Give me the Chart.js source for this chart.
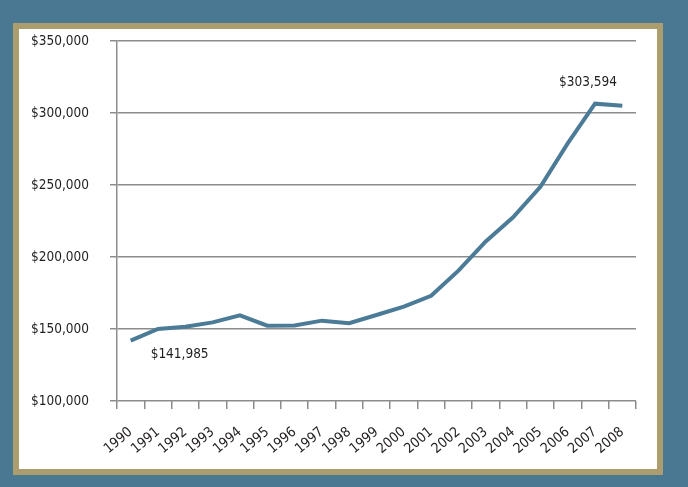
<!DOCTYPE html>
<html>
<head>
<meta charset="utf-8">
<script src="https://cdn.jsdelivr.net/npm/chart.js@4/dist/chart.umd.min.js"></script>
<style>
  html, body { margin: 0; padding: 0; }
  body { width: 688px; height: 487px; background: #4a7893; position: relative; overflow: hidden; }
  #frame {
    position: absolute; left: 13px; top: 23px; width: 650px; height: 452px;
    box-sizing: border-box; border: 6px solid #ab9d6e; background: #fff;
  }
  #chart { display: block; }
</style>
</head>
<body>
<div id="frame"><canvas id="chart" width="638" height="440"></canvas></div>
<script>
// years on the x axis
var years = ['1990','1991','1992','1993','1994','1995','1996','1997','1998','1999',
             '2000','2001','2002','2003','2004','2005','2006','2007','2008'];
// median value
var values = [141985, 150000, 151600, 154600, 159500, 152300, 152500, 155800, 154000, 159700,
              165500, 173100, 190500, 210800, 227600, 248800, 278900, 306500, 305000];
// the two callouts: index into values, text shown
var callouts = [
    {index: 0, text: '$141,985', dx: 20, dy: 14, align: 'left'},
    {index: 17, text: '$303,594', dx: -7, dy: -21, align: 'center'}
];

var fontFamily = '"DejaVu Sans Condensed", "Liberation Sans Narrow", sans-serif';
var gridColor = '#8c8c8c';

function money(v) {
    return '$' + v.toLocaleString('en-US');
}

var calloutPlugin = {
    id: 'callouts',
    afterDatasetsDraw: function (chart) {
        var ctx = chart.ctx;
        var pts = chart.getDatasetMeta(0).data;
        ctx.save();
        ctx.font = '13.5px ' + fontFamily;
        ctx.fillStyle = '#231f20';
        ctx.textBaseline = 'middle';
        callouts.forEach(function (c) {
            var p = pts[c.index];
            ctx.textAlign = c.align;
            ctx.fillText(c.text, p.x + c.dx, p.y + c.dy);
        });
        ctx.restore();
    }
};

new Chart(document.getElementById('chart'), {
    type: 'line',
    data: {
        labels: years,
        datasets: [{
            data: values,
            borderColor: '#4b7b97',
            borderWidth: 4,
            pointRadius: 0,
            tension: 0,
            fill: false
        }]
    },
    options: {
        responsive: false,
        animation: false,
        layout: {padding: {left: 12, top: 12, right: 21, bottom: 0}},
        plugins: {legend: {display: false}, tooltip: {enabled: false}},
        scales: {
            x: {
                offset: true,
                grid: {offset: true, drawOnChartArea: false, drawTicks: true, tickLength: 8, color: gridColor, lineWidth: 1.5},
                border: {display: false},
                ticks: {
                    color: '#231f20',
                    font: {family: fontFamily, size: 14},
                    minRotation: 40, maxRotation: 40,
                    autoSkip: false,
                    padding: 15
                },
                afterFit: function (scale) { scale.height = 68; }
            },
            y: {
                min: 100000, max: 350000,
                grid: {color: gridColor, lineWidth: 1.5, tickLength: 7},
                border: {display: true, color: gridColor, width: 1.5},
                ticks: {
                    stepSize: 50000,
                    color: '#231f20',
                    font: {family: fontFamily, size: 13.5},
                    padding: 0,
                    crossAlign: 'far',
                    callback: function (v) { return money(v); }
                },
                afterFit: function (scale) { scale.width = 86; }
            }
        }
    },
    plugins: [calloutPlugin]
});
</script>
</body>
</html>
